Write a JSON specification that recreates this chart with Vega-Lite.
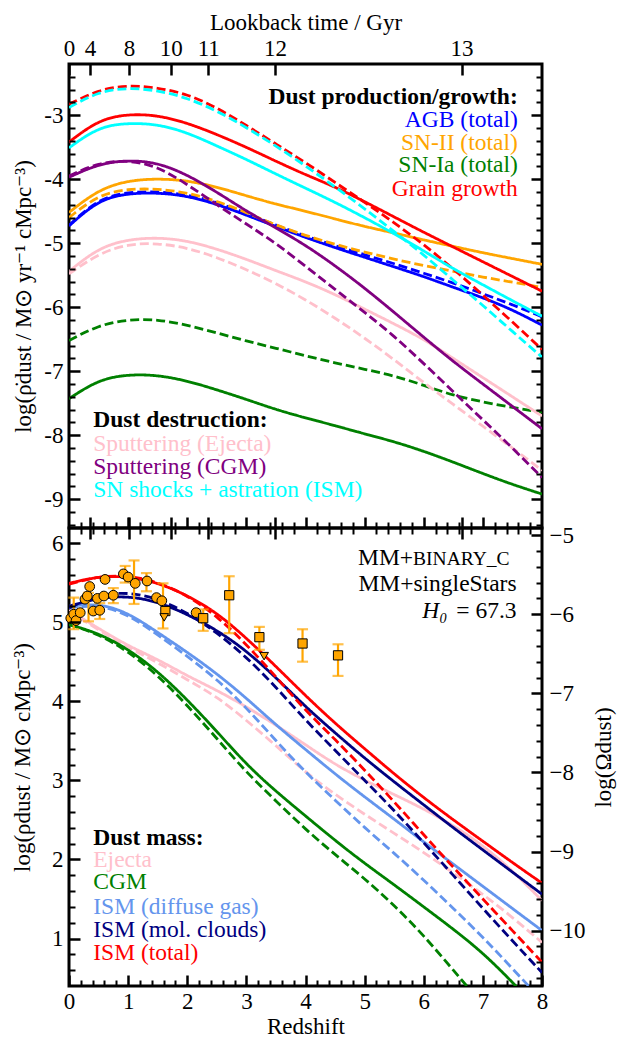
{
"$schema":"https://vega.github.io/schema/vega-lite/v6.json",
"padding":{"left":10,"top":9,"right":0,"bottom":0},
"spacing":0,
"bounds":"flush",
"config":{
 "font":"Liberation Serif",
 "view":{"stroke":"black","strokeWidth":3},
 "axis":{"domain":false,"grid":false,"labelFont":"Liberation Serif","titleFont":"Liberation Serif","labelFontSize":23,"titleFontSize":23,"titleFontWeight":"normal","labelColor":"black","titleColor":"black","tickColor":"black"},
 "text":{"font":"Liberation Serif","fontSize":23.5}
},
"datasets":{
 "rates":[
  {"z":0,"AGB_b":-4.73,"AGB_s":-4.72,"SNII_b":-4.52,"SNII_s":-4.60,"SNIa_b":-7.43,"SNIa_s":-6.52,"Gro_b":-3.42,"Gro_s":-2.83,"SEj_b":-5.44,"SEj_s":-5.48,"SCGM_b":-3.97,"SCGM_s":-3.95,"Sho_b":-3.51,"Sho_s":-2.88},
  {"z":0.5,"AGB_b":-4.32,"AGB_s":-4.30,"SNII_b":-4.16,"SNII_s":-4.24,"SNIa_b":-7.13,"SNIa_s":-6.28,"Gro_b":-3.07,"Gro_s":-2.60,"SEj_b":-5.07,"SEj_s":-5.16,"SCGM_b":-3.76,"SCGM_s":-3.74,"Sho_b":-3.18,"Sho_s":-2.63},
  {"z":1,"AGB_b":-4.22,"AGB_s":-4.20,"SNII_b":-4.02,"SNII_s":-4.15,"SNIa_b":-7.05,"SNIa_s":-6.19,"Gro_b":-2.98,"Gro_s":-2.53,"SEj_b":-4.94,"SEj_s":-5.01,"SCGM_b":-3.70,"SCGM_s":-3.70,"Sho_b":-3.12,"Sho_s":-2.57},
  {"z":1.5,"AGB_b":-4.21,"AGB_s":-4.19,"SNII_b":-3.99,"SNII_s":-4.15,"SNIa_b":-7.06,"SNIa_s":-6.19,"Gro_b":-3.00,"Gro_s":-2.57,"SEj_b":-4.91,"SEj_s":-5.00,"SCGM_b":-3.74,"SCGM_s":-3.80,"Sho_b":-3.14,"Sho_s":-2.61},
  {"z":2,"AGB_b":-4.26,"AGB_s":-4.24,"SNII_b":-4.02,"SNII_s":-4.21,"SNIa_b":-7.15,"SNIa_s":-6.28,"Gro_b":-3.12,"Gro_s":-2.67,"SEj_b":-4.96,"SEj_s":-5.07,"SCGM_b":-3.93,"SCGM_s":-4.08,"Sho_b":-3.27,"Sho_s":-2.73},
  {"z":2.5,"AGB_b":-4.39,"AGB_s":-4.36,"SNII_b":-4.12,"SNII_s":-4.34,"SNIa_b":-7.29,"SNIa_s":-6.40,"Gro_b":-3.30,"Gro_s":-2.88,"SEj_b":-5.09,"SEj_s":-5.22,"SCGM_b":-4.20,"SCGM_s":-4.40,"Sho_b":-3.48,"Sho_s":-2.93},
  {"z":3,"AGB_b":-4.56,"AGB_s":-4.53,"SNII_b":-4.26,"SNII_s":-4.52,"SNIa_b":-7.44,"SNIa_s":-6.53,"Gro_b":-3.50,"Gro_s":-3.16,"SEj_b":-5.25,"SEj_s":-5.41,"SCGM_b":-4.50,"SCGM_s":-4.70,"Sho_b":-3.69,"Sho_s":-3.19},
  {"z":3.5,"AGB_b":-4.74,"AGB_s":-4.72,"SNII_b":-4.39,"SNII_s":-4.72,"SNIa_b":-7.60,"SNIa_s":-6.64,"Gro_b":-3.72,"Gro_s":-3.45,"SEj_b":-5.43,"SEj_s":-5.63,"SCGM_b":-4.76,"SCGM_s":-5.00,"Sho_b":-3.92,"Sho_s":-3.48},
  {"z":4,"AGB_b":-4.91,"AGB_s":-4.89,"SNII_b":-4.50,"SNII_s":-4.88,"SNIa_b":-7.73,"SNIa_s":-6.76,"Gro_b":-3.93,"Gro_s":-3.74,"SEj_b":-5.60,"SEj_s":-5.88,"SCGM_b":-5.03,"SCGM_s":-5.36,"Sho_b":-4.14,"Sho_s":-3.79},
  {"z":4.5,"AGB_b":-5.07,"AGB_s":-5.04,"SNII_b":-4.62,"SNII_s":-5.02,"SNIa_b":-7.85,"SNIa_s":-6.87,"Gro_b":-4.12,"Gro_s":-4.05,"SEj_b":-5.80,"SEj_s":-6.17,"SCGM_b":-5.35,"SCGM_s":-5.72,"Sho_b":-4.36,"Sho_s":-4.12},
  {"z":5,"AGB_b":-5.22,"AGB_s":-5.18,"SNII_b":-4.74,"SNII_s":-5.14,"SNIa_b":-7.98,"SNIa_s":-6.97,"Gro_b":-4.35,"Gro_s":-4.36,"SEj_b":-6.03,"SEj_s":-6.48,"SCGM_b":-5.70,"SCGM_s":-6.08,"Sho_b":-4.60,"Sho_s":-4.46},
  {"z":5.5,"AGB_b":-5.37,"AGB_s":-5.32,"SNII_b":-4.84,"SNII_s":-5.25,"SNIa_b":-8.10,"SNIa_s":-7.07,"Gro_b":-4.59,"Gro_s":-4.68,"SEj_b":-6.26,"SEj_s":-6.82,"SCGM_b":-6.08,"SCGM_s":-6.45,"Sho_b":-4.85,"Sho_s":-4.82},
  {"z":6,"AGB_b":-5.52,"AGB_s":-5.47,"SNII_b":-4.95,"SNII_s":-5.35,"SNIa_b":-8.25,"SNIa_s":-7.22,"Gro_b":-4.83,"Gro_s":-5.02,"SEj_b":-6.50,"SEj_s":-7.18,"SCGM_b":-6.47,"SCGM_s":-6.88,"Sho_b":-5.12,"Sho_s":-5.18},
  {"z":6.5,"AGB_b":-5.69,"AGB_s":-5.62,"SNII_b":-5.05,"SNII_s":-5.44,"SNIa_b":-8.42,"SNIa_s":-7.38,"Gro_b":-5.06,"Gro_s":-5.40,"SEj_b":-6.80,"SEj_s":-7.52,"SCGM_b":-6.85,"SCGM_s":-7.32,"Sho_b":-5.40,"Sho_s":-5.58},
  {"z":7,"AGB_b":-5.85,"AGB_s":-5.79,"SNII_b":-5.15,"SNII_s":-5.53,"SNIa_b":-8.60,"SNIa_s":-7.48,"Gro_b":-5.29,"Gro_s":-5.81,"SEj_b":-7.10,"SEj_s":-7.86,"SCGM_b":-7.20,"SCGM_s":-7.76,"Sho_b":-5.65,"Sho_s":-5.97},
  {"z":7.5,"AGB_b":-6.04,"AGB_s":-5.96,"SNII_b":-5.24,"SNII_s":-5.61,"SNIa_b":-8.77,"SNIa_s":-7.57,"Gro_b":-5.52,"Gro_s":-6.23,"SEj_b":-7.40,"SEj_s":-8.20,"SCGM_b":-7.55,"SCGM_s":-8.20,"Sho_b":-5.90,"Sho_s":-6.38},
  {"z":8,"AGB_b":-6.28,"AGB_s":-6.15,"SNII_b":-5.33,"SNII_s":-5.69,"SNIa_b":-8.92,"SNIa_s":-7.64,"Gro_b":-5.75,"Gro_s":-6.66,"SEj_b":-7.70,"SEj_s":-8.55,"SCGM_b":-7.90,"SCGM_s":-8.66,"Sho_b":-6.14,"Sho_s":-6.78}
 ],
 "mass":[
  {"z":0,"Ej_b":5.15,"Ej_s":5.14,"CGM_b":4.97,"CGM_s":4.97,"Dif_b":5.20,"Dif_s":5.18,"Mol_b":5.20,"Mol_s":5.18,"Tot_b":5.49,"Tot_s":5.48},
  {"z":0.5,"Ej_b":4.92,"Ej_s":4.90,"CGM_b":4.86,"CGM_s":4.85,"Dif_b":5.24,"Dif_s":5.22,"Mol_b":5.31,"Mol_s":5.35,"Tot_b":5.58,"Tot_s":5.58},
  {"z":1,"Ej_b":4.70,"Ej_s":4.68,"CGM_b":4.66,"CGM_s":4.63,"Dif_b":5.12,"Dif_s":5.10,"Mol_b":5.33,"Mol_s":5.38,"Tot_b":5.58,"Tot_s":5.59},
  {"z":1.5,"Ej_b":4.53,"Ej_s":4.49,"CGM_b":4.38,"CGM_s":4.33,"Dif_b":4.87,"Dif_s":4.84,"Mol_b":5.26,"Mol_s":5.30,"Tot_b":5.50,"Tot_s":5.51},
  {"z":2,"Ej_b":4.32,"Ej_s":4.27,"CGM_b":4.02,"CGM_s":3.95,"Dif_b":4.62,"Dif_s":4.57,"Mol_b":5.10,"Mol_s":5.12,"Tot_b":5.34,"Tot_s":5.34},
  {"z":2.5,"Ej_b":4.14,"Ej_s":4.06,"CGM_b":3.62,"CGM_s":3.53,"Dif_b":4.35,"Dif_s":4.28,"Mol_b":4.90,"Mol_s":4.87,"Tot_b":5.12,"Tot_s":5.08},
  {"z":3,"Ej_b":3.93,"Ej_s":3.76,"CGM_b":3.20,"CGM_s":3.10,"Dif_b":4.04,"Dif_s":3.92,"Mol_b":4.64,"Mol_s":4.56,"Tot_b":4.80,"Tot_s":4.72},
  {"z":3.5,"Ej_b":3.70,"Ej_s":3.44,"CGM_b":2.86,"CGM_s":2.74,"Dif_b":3.70,"Dif_s":3.50,"Mol_b":4.30,"Mol_s":4.18,"Tot_b":4.44,"Tot_s":4.31},
  {"z":4,"Ej_b":3.45,"Ej_s":3.10,"CGM_b":2.55,"CGM_s":2.38,"Dif_b":3.39,"Dif_s":3.10,"Mol_b":3.93,"Mol_s":3.76,"Tot_b":4.07,"Tot_s":3.88},
  {"z":4.5,"Ej_b":3.20,"Ej_s":2.82,"CGM_b":2.24,"CGM_s":2.06,"Dif_b":3.08,"Dif_s":2.75,"Mol_b":3.60,"Mol_s":3.38,"Tot_b":3.72,"Tot_s":3.52},
  {"z":5,"Ej_b":3.00,"Ej_s":2.57,"CGM_b":1.95,"CGM_s":1.76,"Dif_b":2.79,"Dif_s":2.40,"Mol_b":3.28,"Mol_s":3.00,"Tot_b":3.40,"Tot_s":3.13},
  {"z":5.5,"Ej_b":2.82,"Ej_s":2.33,"CGM_b":1.68,"CGM_s":1.42,"Dif_b":2.51,"Dif_s":2.08,"Mol_b":2.98,"Mol_s":2.62,"Tot_b":3.08,"Tot_s":2.73},
  {"z":6,"Ej_b":2.64,"Ej_s":2.09,"CGM_b":1.40,"CGM_s":1.04,"Dif_b":2.22,"Dif_s":1.74,"Mol_b":2.69,"Mol_s":2.21,"Tot_b":2.78,"Tot_s":2.31},
  {"z":6.5,"Ej_b":2.43,"Ej_s":1.83,"CGM_b":1.12,"CGM_s":0.60,"Dif_b":1.94,"Dif_s":1.38,"Mol_b":2.40,"Mol_s":1.80,"Tot_b":2.50,"Tot_s":1.90},
  {"z":7,"Ej_b":2.18,"Ej_s":1.56,"CGM_b":0.82,"CGM_s":0.16,"Dif_b":1.66,"Dif_s":1.02,"Mol_b":2.12,"Mol_s":1.38,"Tot_b":2.23,"Tot_s":1.50},
  {"z":7.5,"Ej_b":1.86,"Ej_s":1.27,"CGM_b":0.45,"CGM_s":-0.30,"Dif_b":1.38,"Dif_s":0.62,"Mol_b":1.84,"Mol_s":0.97,"Tot_b":1.96,"Tot_s":1.10},
  {"z":8,"Ej_b":1.48,"Ej_s":0.95,"CGM_b":0.05,"CGM_s":-0.75,"Dif_b":1.10,"Dif_s":0.22,"Mol_b":1.56,"Mol_s":0.57,"Tot_b":1.70,"Tot_s":0.70}
 ],
 "obs":[
  {"kind":"circle","z":0.03,"v":5.05},{"kind":"circle","z":0.08,"v":5.10},{"kind":"circle","z":0.12,"v":5.02},{"kind":"circle","z":0.19,"v":5.12},
  {"kind":"circle","z":0.27,"v":5.29},{"kind":"circle","z":0.31,"v":5.33},{"kind":"circle","z":0.35,"v":5.45},{"kind":"circle","z":0.41,"v":5.14},
  {"kind":"circle","z":0.48,"v":5.30},{"kind":"circle","z":0.52,"v":5.15},{"kind":"circle","z":0.59,"v":5.33},{"kind":"circle","z":0.61,"v":5.54},
  {"kind":"circle","z":0.75,"v":5.34},{"kind":"circle","z":0.92,"v":5.61},{"kind":"circle","z":1.0,"v":5.57},{"kind":"circle","z":1.12,"v":5.49},
  {"kind":"circle","z":1.32,"v":5.52},{"kind":"circle","z":1.48,"v":5.31},{"kind":"circle","z":1.57,"v":5.27},{"kind":"circle","z":2.15,"v":5.12},
  {"kind":"square","z":1.63,"v":5.14},{"kind":"square","z":2.27,"v":5.05},{"kind":"square","z":2.71,"v":5.34},{"kind":"square","z":3.22,"v":4.81},
  {"kind":"square","z":3.95,"v":4.73},{"kind":"square","z":4.55,"v":4.58},
  {"kind":"triangle-down","z":1.61,"v":5.06},{"kind":"triangle-down","z":3.30,"v":4.57}
 ],
 "bars":[
  {"z":0.08,"lo":4.91,"hi":5.31},{"z":0.33,"lo":5.01,"hi":5.37},{"z":0.52,"lo":5.04,"hi":5.24},{"z":0.75,"lo":5.24,"hi":5.43},
  {"z":0.95,"lo":5.50,"hi":5.71},{"z":1.10,"lo":5.23,"hi":5.78},{"z":1.31,"lo":5.39,"hi":5.62},{"z":1.59,"lo":4.92,"hi":5.49},
  {"z":2.27,"lo":4.89,"hi":5.16},{"z":2.71,"lo":4.86,"hi":5.58},{"z":3.22,"lo":4.65,"hi":4.94},{"z":3.95,"lo":4.50,"hi":4.91},{"z":4.55,"lo":4.32,"hi":4.72}
 ],
 "txt":[
  {"g":"topHeadR","t":"Dust production/growth:","k":"","z":7.59,"v":-2.71},
  {"g":"topR","t":"AGB (total)","k":"AGB_b","z":7.59,"v":-3.08},
  {"g":"topR","t":"SN-II (total)","k":"SNII_b","z":7.59,"v":-3.43},
  {"g":"topR","t":"SN-Ia (total)","k":"SNIa_b","z":7.59,"v":-3.78},
  {"g":"topR","t":"Grain growth","k":"Gro_b","z":7.59,"v":-4.15},
  {"g":"topHeadL","t":"Dust destruction:","k":"","z":0.41,"v":-7.77},
  {"g":"topL","t":"Sputtering (Ejecta)","k":"SEj_b","z":0.41,"v":-8.14},
  {"g":"topL","t":"Sputtering (CGM)","k":"SCGM_b","z":0.41,"v":-8.50},
  {"g":"topL","t":"SN shocks + astration (ISM)","k":"Sho_b","z":0.41,"v":-8.86},
  {"g":"botHeadL","t":"Dust mass:","k":"","z":0.41,"v":2.275},
  {"g":"botL","t":"Ejecta","k":"Ej_b","z":0.41,"v":1.99},
  {"g":"botL","t":"CGM","k":"CGM_b","z":0.41,"v":1.71},
  {"g":"botL","t":"ISM (diffuse gas)","k":"Dif_b","z":0.41,"v":1.40},
  {"g":"botL","t":"ISM (mol. clouds)","k":"Mol_b","z":0.41,"v":1.11},
  {"g":"botL","t":"ISM (total)","k":"Tot_b","z":0.41,"v":0.82},
  {"g":"legN","t":"MM+","k":"","z":5.82,"v":5.81},
  {"g":"legSC","t":"BINARY_C","k":"","z":5.82,"v":5.81},
  {"g":"legN","t":"MM+singleStars","k":"","z":7.57,"v":5.48},
  {"g":"legI","t":"H₀","k":"","z":6.40,"v":5.14},
  {"g":"legN","t":"= 67.3","k":"","z":7.57,"v":5.14}
 ]
},
"vconcat":[
 {
  "width":473,"height":464,
  "resolve":{"axis":{"x":"independent","y":"independent"}},
  "layer":[
   {
    "data":{"name":"rates"},
    "transform":[{"fold":["AGB_b","AGB_s","SNII_b","SNII_s","SNIa_b","SNIa_s","Gro_b","Gro_s","SEj_b","SEj_s","SCGM_b","SCGM_s","Sho_b","Sho_s"],"as":["k","v"]}],
    "mark":{"type":"line","strokeWidth":2.8,"clip":true,"interpolate":"basis"},
    "encoding":{
     "x":{"field":"z","type":"quantitative","scale":{"domain":[0,8],"nice":false,"zero":false},
      "axis":{"orient":"bottom","values":[0.355,1,1.014,1.719,2,2.355,3,3.483,4,5,6,6.64,7],"labels":false,"tickSize":11,"offset":-11,"tickWidth":2.5,"title":null,"domain":false,"zindex":1}},
     "y":{"field":"v","type":"quantitative","scale":{"domain":[-9.45,-2.2],"nice":false,"zero":false},
      "axis":{"orient":"left","values":[-9,-8,-7,-6,-5,-4,-3],"tickSize":11,"offset":-11,"tickWidth":2.5,"labelExpr":"datum.value < 0 ? '-' + abs(datum.value) : '' + datum.value","labelPadding":6,"title":"log(ρ̇dust / M⊙ yr⁻¹ cMpc⁻³)","titlePadding":8,"domain":false,"zindex":1}},
     "color":{"field":"k","type":"nominal","legend":null,"scale":{"domain":["AGB_b","AGB_s","SNII_b","SNII_s","SNIa_b","SNIa_s","Gro_b","Gro_s","SEj_b","SEj_s","SCGM_b","SCGM_s","Sho_b","Sho_s","Ej_b","Ej_s","CGM_b","CGM_s","Dif_b","Dif_s","Mol_b","Mol_s","Tot_b","Tot_s"],"range":["blue","blue","orange","orange","green","green","red","red","pink","pink","purple","purple","cyan","cyan","pink","pink","green","green","cornflowerblue","cornflowerblue","navy","navy","red","red"]}},
     "strokeDash":{"field":"k","type":"nominal","legend":null,"scale":{"domain":["AGB_b","AGB_s","SNII_b","SNII_s","SNIa_b","SNIa_s","Gro_b","Gro_s","SEj_b","SEj_s","SCGM_b","SCGM_s","Sho_b","Sho_s"],"range":[[1,0],[9,4],[1,0],[9,4],[1,0],[9,4],[1,0],[9,4],[1,0],[9,4],[1,0],[9,4],[1,0],[9,4]]}}
    }
   },
   {
    "data":{"name":"txt"},
    "transform":[{"filter":"datum.g == 'topR'"}],
    "mark":{"type":"text","align":"right","baseline":"middle","fontSize":23.5},
    "encoding":{
     "x":{"field":"z","type":"quantitative","scale":{"domain":[0,8],"nice":false,"zero":false},
      "axis":{"orient":"bottom","values":[0.2,0.4,0.6,0.8,1.2,1.4,1.6,1.8,2.2,2.4,2.6,2.8,3.2,3.4,3.6,3.8,4.2,4.4,4.6,4.8,5.2,5.4,5.6,5.8,6.2,6.4,6.6,6.8,7.2,7.4,7.6,7.8],"labels":false,"tickSize":6,"offset":-6,"tickWidth":2,"title":null,"domain":false,"zindex":1}},
     "y":{"field":"v","type":"quantitative","scale":{"domain":[-9.45,-2.2],"nice":false,"zero":false},
      "axis":{"orient":"left","values":[-9.4,-9.2,-8.8,-8.6,-8.4,-8.2,-7.8,-7.6,-7.4,-7.2,-6.8,-6.6,-6.4,-6.2,-5.8,-5.6,-5.4,-5.2,-4.8,-4.6,-4.4,-4.2,-3.8,-3.6,-3.4,-3.2,-2.8,-2.6,-2.4],"labels":false,"tickSize":6,"offset":-6,"tickWidth":2,"title":null,"domain":false,"zindex":1}},
     "text":{"field":"t","type":"nominal"},
     "color":{"field":"k","type":"nominal","legend":null,"scale":{"domain":["AGB_b","AGB_s","SNII_b","SNII_s","SNIa_b","SNIa_s","Gro_b","Gro_s","SEj_b","SEj_s","SCGM_b","SCGM_s","Sho_b","Sho_s","Ej_b","Ej_s","CGM_b","CGM_s","Dif_b","Dif_s","Mol_b","Mol_s","Tot_b","Tot_s"],"range":["blue","blue","orange","orange","green","green","red","red","pink","pink","purple","purple","cyan","cyan","pink","pink","green","green","cornflowerblue","cornflowerblue","navy","navy","red","red"]}}
    }
   },
   {
    "data":{"name":"txt"},
    "transform":[{"filter":"datum.g == 'topHeadR'"}],
    "mark":{"type":"text","align":"right","baseline":"middle","fontSize":23.5,"fontWeight":"bold","color":"black"},
    "encoding":{
     "x":{"field":"z","type":"quantitative","scale":{"domain":[0,8],"nice":false,"zero":false},
      "axis":{"orient":"top","values":[0,0.355,1.014,1.719,2.355,3.483,6.64],"tickSize":11,"offset":-11,"tickWidth":2.5,"labelExpr":"datum.value < 0.1 ? '0' : datum.value < 0.5 ? '4' : datum.value < 1.5 ? '8' : datum.value < 2 ? '10' : datum.value < 3 ? '11' : datum.value < 5 ? '12' : '13'","labelPadding":4,"labelFlush":false,"labelOverlap":false,"labelBound":false,"title":"Lookback time / Gyr","titlePadding":3,"domain":false,"zindex":1}},
     "y":{"field":"v","type":"quantitative","scale":{"domain":[-9.45,-2.2],"nice":false,"zero":false},
      "axis":{"orient":"right","values":[-9,-8,-7,-6,-5,-4,-3],"labels":false,"tickSize":11,"offset":-11,"tickWidth":2.5,"title":null,"domain":false,"zindex":1}},
     "text":{"field":"t","type":"nominal"}
    }
   },
   {
    "data":{"name":"txt"},
    "transform":[{"filter":"datum.g == 'topL'"}],
    "mark":{"type":"text","align":"left","baseline":"middle","fontSize":23.5},
    "encoding":{
     "x":{"field":"z","type":"quantitative","scale":{"domain":[0,8],"nice":false,"zero":false},"axis":null},
     "y":{"field":"v","type":"quantitative","scale":{"domain":[-9.45,-2.2],"nice":false,"zero":false},
      "axis":{"orient":"right","values":[-9.4,-9.2,-8.8,-8.6,-8.4,-8.2,-7.8,-7.6,-7.4,-7.2,-6.8,-6.6,-6.4,-6.2,-5.8,-5.6,-5.4,-5.2,-4.8,-4.6,-4.4,-4.2,-3.8,-3.6,-3.4,-3.2,-2.8,-2.6,-2.4],"labels":false,"tickSize":6,"offset":-6,"tickWidth":2,"title":null,"domain":false,"zindex":1}},
     "text":{"field":"t","type":"nominal"},
     "color":{"field":"k","type":"nominal","legend":null,"scale":{"domain":["AGB_b","AGB_s","SNII_b","SNII_s","SNIa_b","SNIa_s","Gro_b","Gro_s","SEj_b","SEj_s","SCGM_b","SCGM_s","Sho_b","Sho_s","Ej_b","Ej_s","CGM_b","CGM_s","Dif_b","Dif_s","Mol_b","Mol_s","Tot_b","Tot_s"],"range":["blue","blue","orange","orange","green","green","red","red","pink","pink","purple","purple","cyan","cyan","pink","pink","green","green","cornflowerblue","cornflowerblue","navy","navy","red","red"]}}
    }
   },
   {
    "data":{"name":"txt"},
    "transform":[{"filter":"datum.g == 'topHeadL'"}],
    "mark":{"type":"text","align":"left","baseline":"middle","fontSize":23.5,"fontWeight":"bold","color":"black"},
    "encoding":{
     "x":{"field":"z","type":"quantitative","scale":{"domain":[0,8],"nice":false,"zero":false},"axis":null},
     "y":{"field":"v","type":"quantitative","scale":{"domain":[-9.45,-2.2],"nice":false,"zero":false},"axis":null},
     "text":{"field":"t","type":"nominal"}
    }
   }
  ]
 },
 {
  "width":473,"height":458,
  "resolve":{"axis":{"x":"independent","y":"independent"}},
  "layer":[
   {
    "data":{"name":"mass"},
    "transform":[{"fold":["Ej_b","Ej_s","CGM_b","CGM_s","Dif_b","Dif_s","Mol_b","Mol_s","Tot_b","Tot_s"],"as":["k","v"]}],
    "mark":{"type":"line","strokeWidth":2.8,"clip":true,"interpolate":"basis"},
    "encoding":{
     "x":{"field":"z","type":"quantitative","scale":{"domain":[0,8],"nice":false,"zero":false},
      "axis":{"orient":"bottom","values":[0,1,2,3,4,5,6,7,8],"format":"d","tickSize":11,"offset":-11,"tickWidth":2.5,"labelPadding":4,"labelFlush":false,"labelOverlap":false,"labelBound":false,"title":"Redshift","titlePadding":2,"domain":false,"zindex":1}},
     "y":{"field":"v","type":"quantitative","scale":{"domain":[0.4,6.19],"nice":false,"zero":false},
      "axis":{"orient":"left","values":[1,2,3,4,5,6],"format":"d","tickSize":11,"offset":-11,"tickWidth":2.5,"labelPadding":6,"title":"log(ρdust / M⊙ cMpc⁻³)","titlePadding":17,"domain":false,"zindex":1}},
     "color":{"field":"k","type":"nominal","legend":null,"scale":{"domain":["AGB_b","AGB_s","SNII_b","SNII_s","SNIa_b","SNIa_s","Gro_b","Gro_s","SEj_b","SEj_s","SCGM_b","SCGM_s","Sho_b","Sho_s","Ej_b","Ej_s","CGM_b","CGM_s","Dif_b","Dif_s","Mol_b","Mol_s","Tot_b","Tot_s"],"range":["blue","blue","orange","orange","green","green","red","red","pink","pink","purple","purple","cyan","cyan","pink","pink","green","green","cornflowerblue","cornflowerblue","navy","navy","red","red"]}},
     "strokeDash":{"field":"k","type":"nominal","legend":null,"scale":{"domain":["Ej_b","Ej_s","CGM_b","CGM_s","Dif_b","Dif_s","Mol_b","Mol_s","Tot_b","Tot_s"],"range":[[1,0],[9,4],[1,0],[9,4],[1,0],[9,4],[1,0],[9,4],[1,0],[9,4]]}}
    }
   },
   {
    "data":{"name":"bars"},
    "mark":{"type":"rule","color":"orange","strokeWidth":2.2},
    "encoding":{
     "x":{"field":"z","type":"quantitative","scale":{"domain":[0,8],"nice":false,"zero":false},
      "axis":{"orient":"bottom","values":[0.2,0.4,0.6,0.8,1.2,1.4,1.6,1.8,2.2,2.4,2.6,2.8,3.2,3.4,3.6,3.8,4.2,4.4,4.6,4.8,5.2,5.4,5.6,5.8,6.2,6.4,6.6,6.8,7.2,7.4,7.6,7.8],"labels":false,"tickSize":6,"offset":-6,"tickWidth":2,"title":null,"domain":false,"zindex":1}},
     "y":{"field":"lo","type":"quantitative","scale":{"domain":[0.4,6.19],"nice":false,"zero":false},
      "axis":{"orient":"left","values":[0.6,0.8,1.2,1.4,1.6,1.8,2.2,2.4,2.6,2.8,3.2,3.4,3.6,3.8,4.2,4.4,4.6,4.8,5.2,5.4,5.6,5.8],"labels":false,"tickSize":6,"offset":-6,"tickWidth":2,"title":null,"domain":false,"zindex":1}},
     "y2":{"field":"hi"}
    }
   },
   {
    "data":{"name":"bars"},
    "mark":{"type":"tick","orient":"horizontal","color":"orange","size":11,"thickness":2.2},
    "encoding":{
     "x":{"field":"z","type":"quantitative","scale":{"domain":[0,8],"nice":false,"zero":false},
      "axis":{"orient":"top","values":[0.355,1.014,1.719,2.355,3.483,6.64],"labels":false,"tickSize":11,"offset":-11,"tickWidth":2.5,"title":null,"domain":false,"zindex":1}},
     "y":{"field":"lo","type":"quantitative","scale":{"domain":[0.4,6.19],"nice":false,"zero":false},
      "axis":{"orient":"right","values":[1.1,2.1,3.1,4.1,5.1,6.1],"labelExpr":"'−' + format(11.1 - datum.value, '.0f')","tickSize":11,"offset":-11,"tickWidth":2.5,"labelPadding":7,"title":"log(Ωdust)","titleAngle":270,"titlePadding":31,"domain":false,"zindex":1}}
    }
   },
   {
    "data":{"name":"bars"},
    "mark":{"type":"tick","orient":"horizontal","color":"orange","size":11,"thickness":2.2},
    "encoding":{
     "x":{"field":"z","type":"quantitative","scale":{"domain":[0,8],"nice":false,"zero":false},
      "axis":{"orient":"top","values":[0.2,0.4,0.6,0.8,1.2,1.4,1.6,1.8,2.2,2.4,2.6,2.8,3.2,3.4,3.6,3.8,4.2,4.4,4.6,4.8,5.2,5.4,5.6,5.8,6.2,6.4,6.6,6.8,7.2,7.4,7.6,7.8],"labels":false,"tickSize":6,"offset":-6,"tickWidth":2,"title":null,"domain":false,"zindex":1}},
     "y":{"field":"hi","type":"quantitative","scale":{"domain":[0.4,6.19],"nice":false,"zero":false},
      "axis":{"orient":"right","values":[0.5,0.7,0.9,1.3,1.5,1.7,1.9,2.3,2.5,2.7,2.9,3.3,3.5,3.7,3.9,4.3,4.5,4.7,4.9,5.3,5.5,5.7,5.9],"labels":false,"tickSize":6,"offset":-6,"tickWidth":2,"title":null,"domain":false,"zindex":1}}
    }
   },
   {
    "data":{"name":"obs"},
    "mark":{"type":"point","filled":true,"color":"orange","stroke":"black","strokeWidth":1,"opacity":1},
    "encoding":{
     "x":{"field":"z","type":"quantitative","scale":{"domain":[0,8],"nice":false,"zero":false},"axis":null},
     "y":{"field":"v","type":"quantitative","scale":{"domain":[0.4,6.19],"nice":false,"zero":false},"axis":null},
     "shape":{"field":"kind","type":"nominal","legend":null,"scale":{"domain":["circle","square","triangle-down"],"range":["circle","square","triangle-down"]}},
     "size":{"field":"kind","type":"ordinal","legend":null,"scale":{"domain":["circle","square","triangle-down"],"range":[95,75,95]}}
    }
   },
   {
    "data":{"name":"txt"},
    "transform":[{"filter":"datum.g == 'botL'"}],
    "mark":{"type":"text","align":"left","baseline":"middle","fontSize":23.5},
    "encoding":{
     "x":{"field":"z","type":"quantitative","scale":{"domain":[0,8],"nice":false,"zero":false},"axis":null},
     "y":{"field":"v","type":"quantitative","scale":{"domain":[0.4,6.19],"nice":false,"zero":false},"axis":null},
     "text":{"field":"t","type":"nominal"},
     "color":{"field":"k","type":"nominal","legend":null,"scale":{"domain":["AGB_b","AGB_s","SNII_b","SNII_s","SNIa_b","SNIa_s","Gro_b","Gro_s","SEj_b","SEj_s","SCGM_b","SCGM_s","Sho_b","Sho_s","Ej_b","Ej_s","CGM_b","CGM_s","Dif_b","Dif_s","Mol_b","Mol_s","Tot_b","Tot_s"],"range":["blue","blue","orange","orange","green","green","red","red","pink","pink","purple","purple","cyan","cyan","pink","pink","green","green","cornflowerblue","cornflowerblue","navy","navy","red","red"]}}
    }
   },
   {
    "data":{"name":"txt"},
    "transform":[{"filter":"datum.g == 'botHeadL'"}],
    "mark":{"type":"text","align":"left","baseline":"middle","fontSize":23.5,"fontWeight":"bold","color":"black"},
    "encoding":{
     "x":{"field":"z","type":"quantitative","scale":{"domain":[0,8],"nice":false,"zero":false},"axis":null},
     "y":{"field":"v","type":"quantitative","scale":{"domain":[0.4,6.19],"nice":false,"zero":false},"axis":null},
     "text":{"field":"t","type":"nominal"}
    }
   },
   {
    "data":{"name":"txt"},
    "transform":[{"filter":"datum.g == 'legN'"}],
    "mark":{"type":"text","align":"right","baseline":"middle","fontSize":23.5,"color":"black"},
    "encoding":{
     "x":{"field":"z","type":"quantitative","scale":{"domain":[0,8],"nice":false,"zero":false},"axis":null},
     "y":{"field":"v","type":"quantitative","scale":{"domain":[0.4,6.19],"nice":false,"zero":false},"axis":null},
     "text":{"field":"t","type":"nominal"}
    }
   },
   {
    "data":{"name":"txt"},
    "transform":[{"filter":"datum.g == 'legSC'"}],
    "mark":{"type":"text","align":"left","baseline":"middle","fontSize":19.5,"dy":1,"color":"black"},
    "encoding":{
     "x":{"field":"z","type":"quantitative","scale":{"domain":[0,8],"nice":false,"zero":false},"axis":null},
     "y":{"field":"v","type":"quantitative","scale":{"domain":[0.4,6.19],"nice":false,"zero":false},"axis":null},
     "text":{"field":"t","type":"nominal"}
    }
   },
   {
    "data":{"name":"txt"},
    "transform":[{"filter":"datum.g == 'legI'"}],
    "mark":{"type":"text","align":"right","baseline":"middle","fontSize":23.5,"fontStyle":"italic","color":"black"},
    "encoding":{
     "x":{"field":"z","type":"quantitative","scale":{"domain":[0,8],"nice":false,"zero":false},"axis":null},
     "y":{"field":"v","type":"quantitative","scale":{"domain":[0.4,6.19],"nice":false,"zero":false},"axis":null},
     "text":{"field":"t","type":"nominal"}
    }
   },
   {
    "mark":{"type":"rule","color":"black","strokeWidth":3},
    "encoding":{
     "x":{"datum":3.94,"type":"quantitative","scale":{"domain":[0,8],"nice":false,"zero":false},"axis":null},
     "x2":{"datum":4.53},
     "y":{"datum":5.81,"type":"quantitative","scale":{"domain":[0.4,6.19],"nice":false,"zero":false},"axis":null}
    }
   },
   {
    "mark":{"type":"rule","color":"black","strokeWidth":3,"strokeDash":[9,4]},
    "encoding":{
     "x":{"datum":3.94,"type":"quantitative","scale":{"domain":[0,8],"nice":false,"zero":false},"axis":null},
     "x2":{"datum":4.53},
     "y":{"datum":5.48,"type":"quantitative","scale":{"domain":[0.4,6.19],"nice":false,"zero":false},"axis":null}
    }
   }
  ]
 }
]
}
